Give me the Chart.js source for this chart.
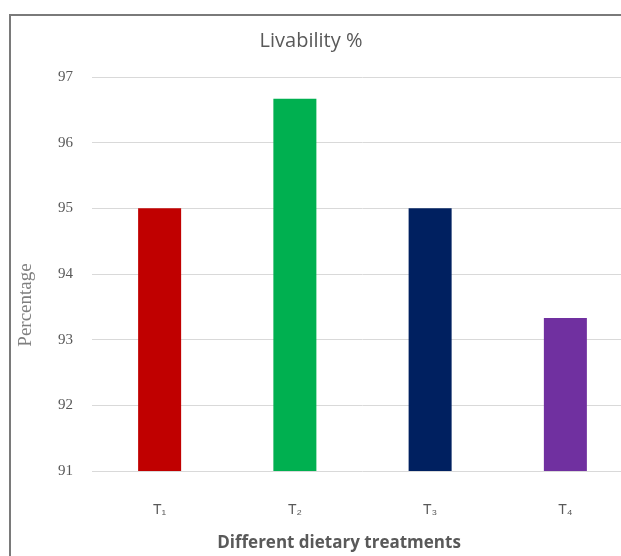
<!DOCTYPE html>
<html>
<head>
<meta charset="utf-8">
<script src="https://cdn.jsdelivr.net/npm/chart.js@4/dist/chart.umd.min.js"></script>
<style>
  html, body { margin: 0; padding: 0; background: #ffffff; overflow: hidden; }
  #wrap { position: absolute; left: 0; top: 0; width: 621px; height: 556px; overflow: hidden; background: #ffffff; }
  #frame { position: absolute; left: 9px; top: 14px; width: 700px; height: 600px;
           border-top: 2px solid #7a7a7a; border-left: 2px solid #7a7a7a; box-sizing: border-box; }
  #c { position: absolute; left: 0; top: 0; }
</style>
</head>
<body>
<div id="wrap">
  <div id="frame"></div>
  <canvas id="c" width="634" height="556"></canvas>
</div>
<script>
// ---- data ----
const categories = ['T\u2081', 'T\u2082', 'T\u2083', 'T\u2084'];
const livability = [95, 96.67, 95, 93.33];
const barColors = ['#C00000', '#00B050', '#002060', '#7030A0'];
const yTickMin = 91;
const yTickMax = 97;
const yTickStep = 1;
const chartTitle = 'Livability %';
const xAxisTitle = 'Different dietary treatments';
const yAxisTitle = 'Percentage';

const textColor = '#595959';

const titlesPlugin = {
  id: 'titles',
  afterDraw(chart) {
    const ctx = chart.ctx;
    ctx.save();
    ctx.fillStyle = textColor;
    ctx.textAlign = 'center';
    ctx.textBaseline = 'middle';
    ctx.font = '20px "Open Sans", "Liberation Sans", sans-serif';
    ctx.fillText(chartTitle, 311, 41);
    ctx.font = 'bold 17px "Open Sans", "Liberation Sans", sans-serif';
    ctx.fillText(xAxisTitle, 339, 543);
    ctx.translate(26, 305);
    ctx.rotate(-Math.PI / 2);
    ctx.fillStyle = '#7f7f7f';
    ctx.font = '19px "Liberation Serif", "DejaVu Serif", serif';
    ctx.fillText(yAxisTitle, 0, 0);
    ctx.restore();
  }
};

new Chart(document.getElementById('c'), {
  type: 'bar',
  data: {
    labels: categories,
    datasets: [{
      label: chartTitle,
      data: livability,
      backgroundColor: barColors,
      borderWidth: 0,
      barPercentage: 1,
      categoryPercentage: 0.318
    }]
  },
  options: {
    responsive: false,
    animation: false,
    devicePixelRatio: 1,
    layout: { padding: { top: 77, left: 0, right: 1, bottom: 0 } },
    plugins: {
      legend: { display: false },
      title: { display: false },
      tooltip: { enabled: false }
    },
    scales: {
      x: {
        grid: { display: false },
        border: { display: false },
        ticks: {
          color: textColor,
          font: { family: '"Liberation Sans", "DejaVu Sans", sans-serif', size: 14 },
          padding: 23
        },
        afterFit(scale) { scale.height = 85; }
      },
      y: {
        min: yTickMin,
        max: yTickMax,
        ticks: {
          stepSize: yTickStep,
          color: textColor,
          font: { family: '"Liberation Serif", "DejaVu Serif", serif', size: 15 },
          padding: 19
        },
        grid: { color: '#d9d9d9', lineWidth: 1, drawTicks: false },
        border: { display: false },
        afterFit(scale) { scale.width = 92; }
      }
    }
  },
  plugins: [titlesPlugin]
});
</script>
</body>
</html>
